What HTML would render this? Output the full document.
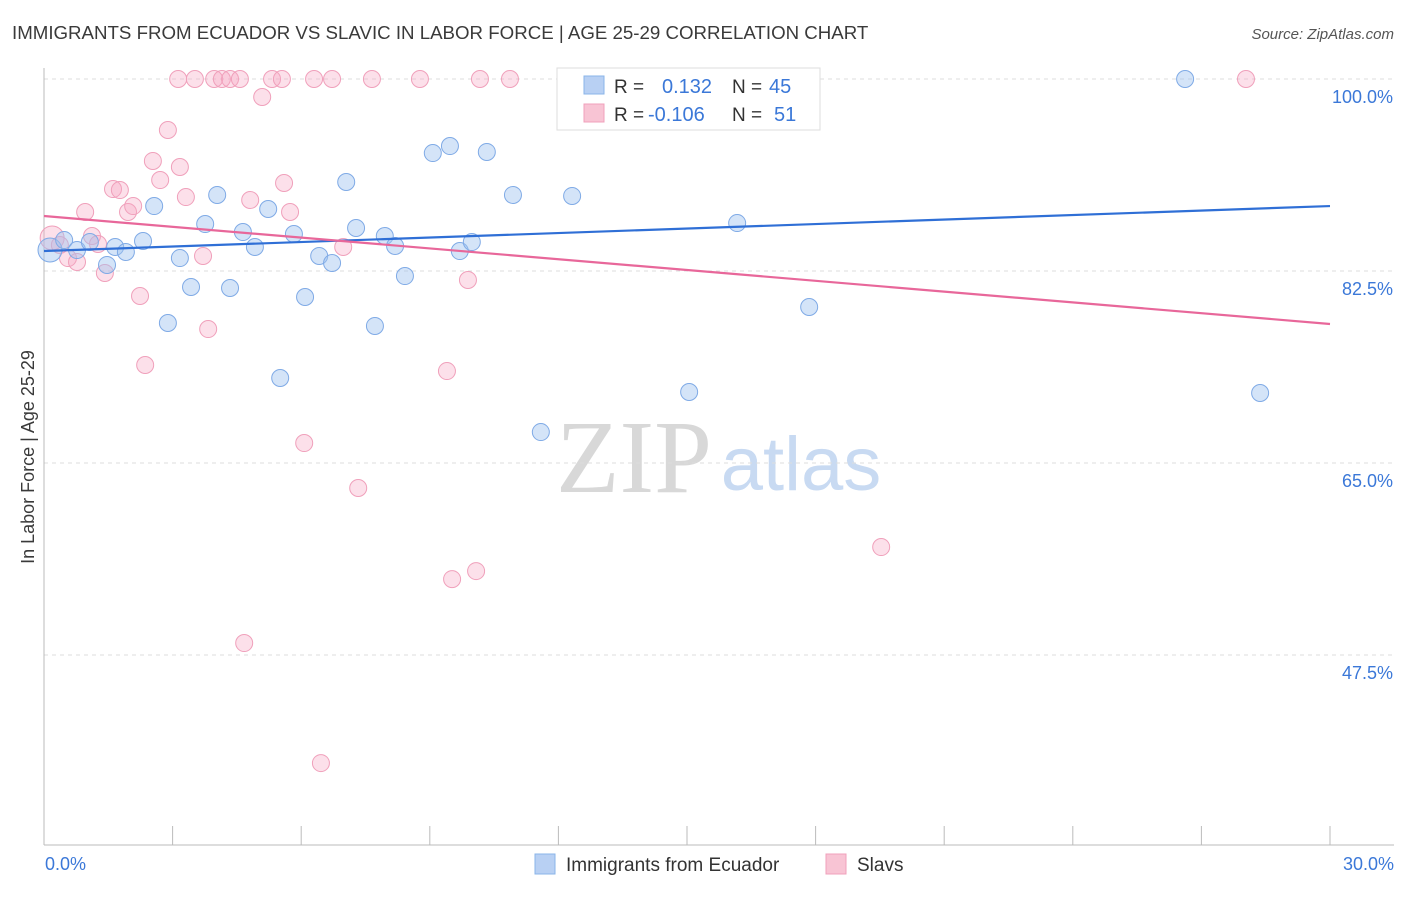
<!DOCTYPE html>
<html><head><meta charset="utf-8"><style>
body{margin:0;background:#fff;font-family:"Liberation Sans",sans-serif}
</style></head><body>
<svg id="chart" width="1406" height="892" xmlns="http://www.w3.org/2000/svg">
<text x="12" y="39" font-size="18.7" fill="#3a3a3a">IMMIGRANTS FROM ECUADOR VS SLAVIC IN LABOR FORCE | AGE 25-29 CORRELATION CHART</text>
<text x="1394" y="39" font-size="15" fill="#555" font-style="italic" text-anchor="end">Source: ZipAtlas.com</text>
<text x="634" y="492" font-size="104" fill="#d8d8d8" font-family="Liberation Serif,serif" text-anchor="middle">ZIP</text>
<text x="801" y="490" font-size="76" fill="#c8daf2" text-anchor="middle">atlas</text>
<g id="grid"></g><g id="axes"></g><g id="pts"></g><g id="lines"></g>
<text transform="translate(34,457) rotate(-90)" font-size="18" fill="#3a3a3a" text-anchor="middle">In Labor Force | Age 25-29</text>
<g>
<rect x="557" y="68" width="263" height="62" fill="#fff" stroke="#ddd"/>
<rect x="584" y="76" width="20" height="18" fill="#b8d0f3" stroke="#8ab4e8"/>
<rect x="584" y="104" width="20" height="18" fill="#f8c4d4" stroke="#f0a0bb"/>
<text x="614" y="93" font-size="19" fill="#333">R = </text><text x="662" y="93" font-size="20" fill="#3b78d8">0.132</text>
<text x="732" y="93" font-size="19" fill="#333">N = </text><text x="769" y="93" font-size="20" fill="#3b78d8">45</text>
<text x="614" y="121" font-size="19" fill="#333">R = </text><text x="648" y="121" font-size="20" fill="#3b78d8">-0.106</text>
<text x="732" y="121" font-size="19" fill="#333">N = </text><text x="774" y="121" font-size="20" fill="#3b78d8">51</text>
</g>
<g>
<rect x="535" y="854" width="20" height="20" fill="#b8d0f3" stroke="#8ab4e8"/>
<text x="566" y="871" font-size="19" fill="#333">Immigrants from Ecuador</text>
<rect x="826" y="854" width="20" height="20" fill="#f8c4d4" stroke="#f0a0bb"/>
<text x="857" y="871" font-size="19" fill="#333">Slavs</text>
</g>
</svg>
<script>
const yTicks=[100,82.5,65,47.5];
const yTickLabels=["100.0%","82.5%","65.0%","47.5%"];
const xTickLabels=["0.0%","30.0%"];
const blueX=[0.14,0.47,0.77,1.07,1.47,1.66,1.91,2.31,2.57,2.89,3.17,3.43,3.76,4.04,4.34,4.64,4.92,5.23,5.51,5.83,6.09,6.42,6.72,7.05,7.28,7.72,7.95,8.19,8.42,9.07,9.47,9.70,9.98,10.33,10.94,11.59,12.32,15.05,15.42,16.17,17.85,26.62,28.37];
const blueY=[84.41,85.32,84.41,85.14,83.05,84.69,84.23,85.23,88.42,77.76,83.68,81.04,86.78,89.43,80.95,86.05,84.69,88.15,72.75,85.87,80.13,83.87,83.23,90.61,86.42,77.49,85.69,84.78,82.04,93.25,93.89,84.32,85.14,93.35,89.43,67.82,89.34,71.47,100,86.87,79.22,100,71.38];
const pinkX=[0.19,0.37,0.56,0.77,0.96,1.12,1.26,1.42,1.61,1.77,1.96,2.08,2.24,2.36,2.54,2.71,2.89,3.13,3.17,3.31,3.52,3.71,3.83,3.97,4.15,4.34,4.57,4.81,5.09,5.32,5.55,5.60,5.74,6.07,6.30,6.46,6.72,6.98,7.33,7.65,8.77,9.40,9.52,9.89,10.08,10.17,10.87,12.92,19.53,28.04,4.67];
const pinkY=[85.51,84.87,83.68,83.32,87.88,85.69,84.96,82.32,89.97,89.88,87.88,88.42,80.22,73.93,92.53,90.79,95.35,100,91.98,89.24,100,83.87,77.21,100,100,100,100,88.97,98.36,100,100,90.52,87.88,66.82,100,37.65,100,84.69,62.72,100,100,73.38,54.42,81.68,55.15,100,100,97.63,57.34,100,48.59];
const blueTrend=[84.32,88.42];
const pinkTrend=[87.51,77.67];
const NS="http://www.w3.org/2000/svg";
const X=v=>44+v/30*1286, Y=v=>79+(100-v)*192/17.5;
function mk(t,a,p){const e=document.createElementNS(NS,t);for(const k in a)e.setAttribute(k,a[k]);document.getElementById(p).appendChild(e);return e;}
yTicks.forEach((t,i)=>{
 const g=mk('line',{x1:44,x2:1394,y1:Y(t),y2:Y(t),stroke:'#ddd','stroke-dasharray':'4,4'},'grid');
 
 
 const l=mk('text',{x:1393,y:Y(t)+24,'font-size':18,fill:'#3b78d8','text-anchor':'end'},'axes');l.textContent=yTickLabels[i];
 
 
});
const ax=mk('line',{x1:44,x2:44,y1:68,y2:845,stroke:'#bbb'},'axes');


const bx=mk('line',{x1:44,x2:1394,y1:845,y2:845,stroke:'#bbb'},'axes');


for(let i=0;i<=10;i++){const t=mk('line',{x1:X(i*3),x2:X(i*3),y1:826,y2:845,stroke:'#bbb'},'axes');
 
 }
[[0,'start',45],[30,'end',1394]].forEach((d,i)=>{const l=mk('text',{x:d[2],y:870,'font-size':18,fill:'#3b78d8','text-anchor':d[1]},'axes');l.textContent=xTickLabels[i];
 
 });
pinkX.forEach((x,i)=>{const c=mk('circle',{cx:X(x),cy:Y(pinkY[i]),r:i==0?12:8.5,fill:'rgba(245,165,195,0.35)',stroke:'#f0a0bb','stroke-width':1},'pts');
 
 });
blueX.forEach((x,i)=>{const c=mk('circle',{cx:X(x),cy:Y(blueY[i]),r:i==0?12:8.5,fill:'rgba(160,195,240,0.45)',stroke:'#7faae6','stroke-width':1},'pts');
 
 });
const bl=mk('line',{x1:X(0),y1:Y(blueTrend[0]),x2:X(30),y2:Y(blueTrend[1]),stroke:'#2f6fd6','stroke-width':2.2},'lines');


const pl=mk('line',{x1:X(0),y1:Y(pinkTrend[0]),x2:X(30),y2:Y(pinkTrend[1]),stroke:'#e8679a','stroke-width':2.2},'lines');


</script>
</body></html>
